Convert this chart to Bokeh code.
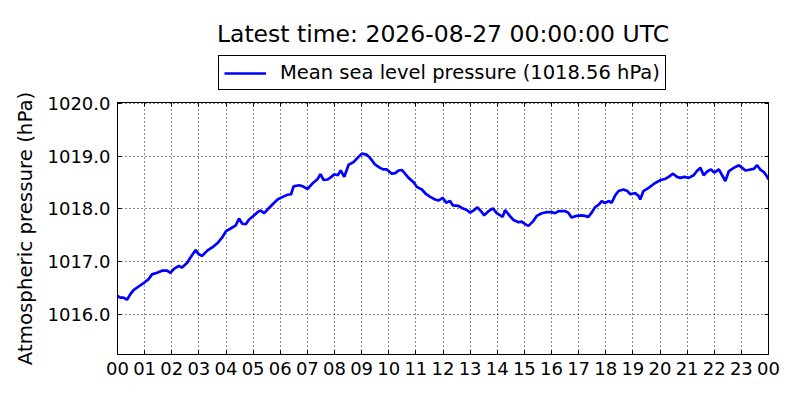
from bokeh.plotting import figure
from bokeh.layouts import column
from bokeh.models import (FixedTicker, LinearAxis, Legend, LegendItem, Label,
                          PrintfTickFormatter, Range1d)
from bokeh.embed import file_html
from bokeh.resources import INLINE

title_text = "Latest time: 2026-08-27 00:00:00 UTC"
series_name = "Mean sea level pressure (1018.56 hPa)"
y_label = "Atmospheric pressure (hPa)"
x_tick_labels = ["00", "01", "02", "03", "04", "05", "06", "07", "08", "09", "10", "11",
                 "12", "13", "14", "15", "16", "17", "18", "19", "20", "21", "22", "23", "00"]
y_ticks = [1016, 1017, 1018, 1019, 1020]

hours = [0.0, 0.10, 0.22, 0.35, 0.47, 0.59, 0.78, 1.0, 1.15, 1.27, 1.46, 1.64, 1.83, 1.95,
         2.07, 2.26, 2.38, 2.57, 2.69, 2.88, 3.0, 3.12, 3.31, 3.49, 3.68, 3.86, 4.0, 4.17,
         4.36, 4.48, 4.60, 4.73, 4.85, 5.04, 5.16, 5.28, 5.41, 5.53, 5.72, 5.90, 6.09, 6.27,
         6.40, 6.49, 6.70, 6.83, 7.01, 7.20, 7.38, 7.48, 7.60, 7.75, 7.88, 8.0, 8.12,
         8.23, 8.36, 8.52, 8.70, 8.85, 9.01, 9.19, 9.31, 9.50, 9.68, 9.81, 9.93, 10.11,
         10.24, 10.36, 10.48, 10.60, 10.73, 10.91, 11.03, 11.22, 11.38, 11.53, 11.71, 11.83,
         11.99, 12.12, 12.26, 12.36, 12.57, 12.69, 12.88, 13.0, 13.15, 13.27, 13.43, 13.52,
         13.68, 13.84, 13.98, 14.11, 14.20, 14.29, 14.41, 14.60, 14.78, 14.90, 15.03, 15.15,
         15.33, 15.46, 15.64, 15.83, 16.01, 16.13, 16.26, 16.31, 16.49, 16.62, 16.74, 16.92,
         17.11, 17.23, 17.36, 17.48, 17.60, 17.76, 17.85, 17.97, 18.10, 18.22, 18.34, 18.47,
         18.65, 18.80, 18.90, 19.08, 19.21, 19.27, 19.39, 19.58, 19.76, 19.88, 20.03, 20.19,
         20.32, 20.48, 20.62, 20.75, 20.90, 21.06, 21.24, 21.36, 21.49, 21.61, 21.76, 21.88,
         22.0, 22.17, 22.29, 22.41, 22.54, 22.72, 22.91, 23.03, 23.15, 23.34, 23.46, 23.58,
         23.71, 23.83, 23.95, 24.0]

pressure = [1016.35, 1016.32, 1016.32, 1016.28, 1016.38, 1016.46, 1016.53, 1016.61, 1016.67,
            1016.76, 1016.79, 1016.83, 1016.83, 1016.79, 1016.86, 1016.92, 1016.89, 1016.98,
            1017.08, 1017.22, 1017.14, 1017.11, 1017.21, 1017.27, 1017.35, 1017.46, 1017.58,
            1017.63, 1017.69, 1017.82, 1017.72, 1017.71, 1017.80, 1017.88, 1017.94, 1017.97,
            1017.92, 1017.99, 1018.09, 1018.18, 1018.23, 1018.27, 1018.28, 1018.43, 1018.45,
            1018.43, 1018.38, 1018.49, 1018.57, 1018.66, 1018.55, 1018.56, 1018.61, 1018.66,
            1018.64, 1018.73, 1018.61, 1018.84, 1018.89, 1018.97, 1019.05, 1019.03, 1018.97,
            1018.84, 1018.78, 1018.75, 1018.75, 1018.67, 1018.68, 1018.73, 1018.74, 1018.67,
            1018.59, 1018.51, 1018.42, 1018.37, 1018.28, 1018.23, 1018.18, 1018.16, 1018.21,
            1018.12, 1018.15, 1018.07, 1018.06, 1018.02, 1017.98, 1017.93, 1017.98, 1018.03,
            1017.94, 1017.88, 1017.96, 1018.01, 1017.92, 1017.88, 1017.85, 1017.98, 1017.90,
            1017.79, 1017.75, 1017.76, 1017.71, 1017.68, 1017.77, 1017.87, 1017.92, 1017.94,
            1017.94, 1017.92, 1017.96, 1017.96, 1017.96, 1017.93, 1017.84, 1017.87, 1017.88,
            1017.87, 1017.85, 1017.93, 1018.03, 1018.09, 1018.15, 1018.11, 1018.15, 1018.12,
            1018.25, 1018.34, 1018.37, 1018.34, 1018.28, 1018.30, 1018.25, 1018.18, 1018.34,
            1018.40, 1018.47, 1018.51, 1018.55, 1018.57, 1018.61, 1018.67, 1018.61, 1018.59,
            1018.61, 1018.59, 1018.64, 1018.72, 1018.78, 1018.64, 1018.72, 1018.75, 1018.69,
            1018.75, 1018.64, 1018.53, 1018.72, 1018.78, 1018.83, 1018.78, 1018.73, 1018.75,
            1018.76, 1018.83, 1018.74, 1018.70, 1018.61, 1018.56]

FONT = "DejaVu Sans"
LINE_COLOR = "#0000ff"
LINE_W = 2.7
W = 784
TOP_H = 92
MAIN_H = 384 - TOP_H
FRAME_L, FRAME_R, FRAME_T, FRAME_B = 117, 768, 102, 354

# ---- header figure: title + legend (its frame is aligned with the main frame) ----
head = figure(width=W, height=TOP_H, output_backend="svg", toolbar_location=None,
              title=None,
              x_range=Range1d(FRAME_L, FRAME_R), y_range=Range1d(0, TOP_H),
              min_border_left=FRAME_L, min_border_right=W - FRAME_R,
              min_border_top=0, min_border_bottom=0,
              x_axis_location=None, y_axis_location=None,
              background_fill_color="white", border_fill_color="white")
head.outline_line_color = None
head.xgrid.visible = False
head.ygrid.visible = False
# same series; it lies outside this header's ranges, so only its legend key shows
key_line = head.line(hours, pressure, line_color=LINE_COLOR, line_width=LINE_W)

head.add_layout(Label(x=(FRAME_L + FRAME_R) / 2, y=TOP_H - 33, y_units="screen",
                      text=title_text,
                      text_font=FONT, text_font_size="23.5px", text_color="black",
                      text_align="center", text_baseline="alphabetic"))

legend = Legend(items=[LegendItem(label=series_name, renderers=[key_line])],
                location=(218 - FRAME_L, TOP_H - 90), orientation="vertical",
                border_line_color="black", border_line_width=1, border_line_alpha=1,
                background_fill_color="white", background_fill_alpha=1,
                label_text_font=FONT, label_text_font_size="19.5px",
                label_text_color="black",
                glyph_width=42, glyph_height=20, label_standoff=14,
                padding=5, margin=0, spacing=0)
head.add_layout(legend, "center")

# ---- main figure ----
p = figure(width=W, height=MAIN_H, output_backend="svg", toolbar_location=None,
           title=None,
           x_range=Range1d(0, 24), y_range=Range1d(1015.24, 1020.02),
           min_border_left=FRAME_L, min_border_right=W - FRAME_R,
           min_border_top=FRAME_T - TOP_H, min_border_bottom=384 - FRAME_B,
           background_fill_color="white", border_fill_color="white")
p.outline_line_color = "black"
p.outline_line_width = 1
p.outline_line_alpha = 1

p.line(hours, pressure, line_color=LINE_COLOR, line_width=LINE_W)

xticks = list(range(len(x_tick_labels)))
overrides = {i: lab for i, lab in enumerate(x_tick_labels)}

def style_axis(ax):
    ax.major_tick_in = 4
    ax.major_tick_out = 0
    ax.minor_tick_in = 0
    ax.minor_tick_out = 0
    ax.axis_line_color = "black"
    ax.major_tick_line_color = "black"
    ax.major_label_text_font = FONT
    ax.major_label_text_color = "black"
    ax.major_label_text_font_size = "18px"
    ax.major_label_standoff = 7

xa = p.xaxis[0]
xa.ticker = FixedTicker(ticks=xticks)
xa.major_label_overrides = overrides
style_axis(xa)

ya = p.yaxis[0]
ya.ticker = FixedTicker(ticks=y_ticks)
ya.formatter = PrintfTickFormatter(format="%.1f")
style_axis(ya)
ya.axis_label = y_label
ya.axis_label_text_font = FONT
ya.axis_label_text_font_size = "19.8px"
ya.axis_label_text_font_style = "normal"
ya.axis_label_text_color = "black"
ya.axis_label_standoff = 8

top = LinearAxis(ticker=FixedTicker(ticks=xticks),
                 major_label_overrides={t: "" for t in xticks})
style_axis(top)
top.major_label_standoff = 0
top.major_label_text_font_size = "1px"
p.add_layout(top, "above")
right = LinearAxis(ticker=FixedTicker(ticks=y_ticks),
                   major_label_overrides={t: "" for t in y_ticks})
style_axis(right)
right.major_label_standoff = 0
right.major_label_text_font_size = "1px"
p.add_layout(right, "right")

p.xgrid.ticker = FixedTicker(ticks=xticks)
p.ygrid.ticker = FixedTicker(ticks=y_ticks)
for g in (p.xgrid[0], p.ygrid[0]):
    g.grid_line_color = "black"
    g.grid_line_dash = "1 3"
    g.grid_line_width = 1
    g.grid_line_alpha = 0.9

layout = column(head, p, spacing=0)
open("out.html", "w").write(file_html(layout, INLINE))
